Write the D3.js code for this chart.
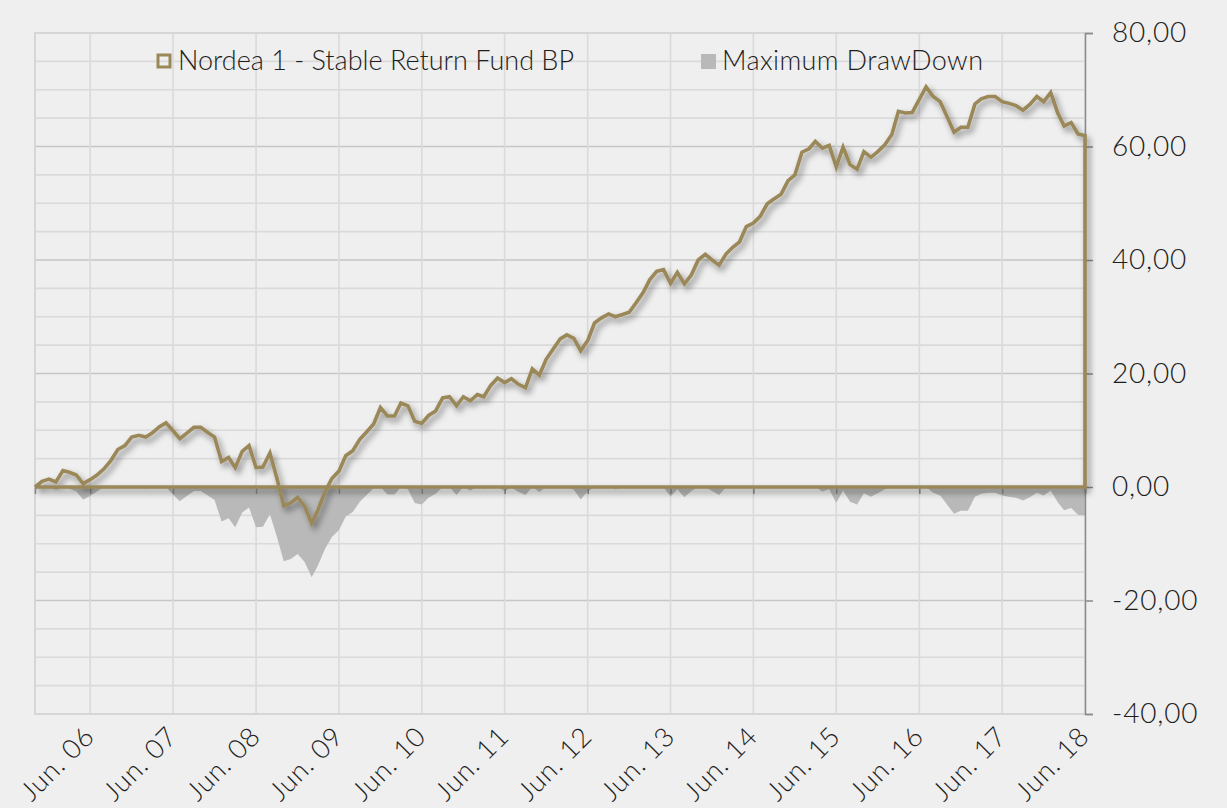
<!DOCTYPE html>
<html>
<head>
<meta charset="utf-8">
<script src="https://cdn.jsdelivr.net/npm/d3@7"></script>
<style>
  body { margin: 0; background: #efefef; }
  svg { display: block; }
  text { font-family: "Lato", "Open Sans", sans-serif; font-weight: 300; fill: #1e1e1e; }
</style>
</head>
<body>
<svg id="chart" width="1227" height="808"></svg>
<script>
// monthly series, Oct 2005 .. Jun 2018
const startMonth = new Date(2005, 9, 1);

const fundValues = [
  0.0, 1.0, 1.4, 0.9, 2.9, 2.6, 2.1, 0.6, 1.3, 2.1,
  3.2, 4.7, 6.6, 7.3, 8.8, 9.1, 8.8, 9.5, 10.6, 11.3,
  9.9, 8.5, 9.5, 10.5, 10.5, 9.6, 8.8, 4.5, 5.2, 3.4,
  6.3, 7.3, 3.4, 3.5, 6.0, 1.5, -3.3, -2.8, -1.8, -3.4,
  -6.4, -4.0, -0.8, 1.5, 2.8, 5.5, 6.4, 8.4, 9.7, 11.1,
  14.0, 12.5, 12.5, 14.8, 14.3, 11.6, 11.2, 12.6, 13.4, 15.7,
  15.9, 14.3, 15.9, 15.2, 16.3, 15.9, 17.9, 19.2, 18.4, 19.1,
  18.1, 17.5, 20.8, 19.7, 22.5, 24.3, 26.1, 26.8, 26.2, 24.0,
  25.8, 28.9, 29.8, 30.5, 30.0, 30.4, 30.8, 32.5, 34.3, 36.5,
  38.0, 38.3, 35.9, 37.8, 35.8, 37.4, 40.0, 41.0, 40.0, 39.1,
  41.1, 42.2, 43.2, 45.9, 46.5, 47.7, 49.9, 50.8, 51.6, 54.0,
  55.0, 59.0, 59.6, 60.9, 59.7, 60.2, 56.4, 59.9, 56.8, 56.0,
  59.1, 58.1, 59.1, 60.3, 62.1, 66.2, 65.9, 66.0, 68.3, 70.5,
  68.8, 67.9, 65.3, 62.5, 63.4, 63.4, 67.5, 68.4, 68.8, 68.8,
  67.9, 67.6, 67.2, 66.4, 67.4, 68.8, 67.9, 69.5, 65.9, 63.6,
  64.2, 62.2, 61.9
];

const drawdownValues = [
  0, 0, 0, -0.5, 0, -0.3, -0.8, -2.2, -1.6, -0.8,
  0, 0, 0, 0, 0, 0, -0.3, 0, 0, 0,
  -1.3, -2.5, -1.6, -0.7, -0.7, -1.5, -2.3, -6.1, -5.5, -7.1,
  -4.5, -3.6, -7.1, -7.0, -4.8, -8.8, -13.1, -12.7, -11.8, -13.2,
  -15.9, -13.8, -10.9, -8.8, -7.6, -5.2, -4.4, -2.6, -1.4, -0.2,
  0, -1.3, -1.3, 0, -0.4, -2.8, -3.1, -1.9, -1.2, 0,
  0, -1.4, 0, -0.6, 0, -0.3, 0, 0, -0.7, -0.1,
  -0.9, -1.4, 0, -0.9, 0, 0, 0, 0, -0.5, -2.2,
  -0.8, 0, 0, 0, -0.4, -0.1, 0, 0, 0, 0,
  0, 0, -1.7, -0.4, -1.8, -0.7, 0, 0, -0.7, -1.4,
  0, 0, 0, 0, 0, 0, 0, 0, 0, 0,
  0, 0, 0, 0, -0.8, -0.4, -2.8, -0.6, -2.6, -3.1,
  -1.1, -1.7, -1.1, -0.4, 0, 0, -0.2, -0.1, 0, 0,
  -1.0, -1.5, -3.1, -4.7, -4.2, -4.2, -1.7, -1.2, -1.0, -1.0,
  -1.5, -1.7, -1.9, -2.4, -1.8, -1.0, -1.5, -0.6, -2.7, -4.1,
  -3.7, -4.9, -5.0
];

const tickLabels = ["Jun. 06", "Jun. 07", "Jun. 08", "Jun. 09", "Jun. 10", "Jun. 11",
  "Jun. 12", "Jun. 13", "Jun. 14", "Jun. 15", "Jun. 16", "Jun. 17", "Jun. 18"];
const tickYears = [2006, 2007, 2008, 2009, 2010, 2011, 2012, 2013, 2014, 2015, 2016, 2017, 2018];
const yTicks = [-40, -20, 0, 20, 40, 60, 80];

const seriesNames = ["Nordea 1 - Stable Return Fund BP", "Maximum DrawDown"];

const gold = "#9b8858";
const ddGray = "#b9b9b9";

const months = fundValues.map((v, i) => d3.timeMonth.offset(startMonth, i));
const rows = months.map((m, i) => ({ date: m, fund: fundValues[i], dd: drawdownValues[i] }));

const plotLeft = 35, plotRight = 1085, plotTop = 33, plotBottom = 714;

const x = d3.scaleTime()
  .domain([months[0], months[months.length - 1]])
  .range([plotLeft, plotRight]);
const y = d3.scaleLinear().domain([-40, 80]).range([plotBottom, plotTop]);

const svg = d3.select("#chart");

const defs = svg.append("defs");
const shadow = defs.append("filter").attr("id", "shadow")
  .attr("x", "-5%").attr("y", "-20%").attr("width", "115%").attr("height", "150%");
shadow.append("feDropShadow")
  .attr("dx", 3).attr("dy", 4).attr("stdDeviation", 3)
  .attr("flood-color", "#000").attr("flood-opacity", 0.45);

// horizontal grid (every 5, darker every 20)
const minor = d3.range(-40, 81, 5);
svg.append("g").selectAll("line").data(minor).enter().append("line")
  .attr("x1", plotLeft).attr("x2", plotRight)
  .attr("y1", d => y(d)).attr("y2", d => y(d))
  .attr("stroke", d => d % 20 === 0 ? "#c6c6c6" : "#dadada")
  .attr("stroke-width", 1.6);

// vertical grid at each June
const tickDates = tickYears.map(yr => new Date(yr, 5, 1));
svg.append("g").selectAll("line").data(tickDates).enter().append("line")
  .attr("x1", d => x(d)).attr("x2", d => x(d))
  .attr("y1", plotTop).attr("y2", plotBottom)
  .attr("stroke", "#dadada").attr("stroke-width", 1.6);

// plot border (top, left, bottom)
svg.append("path")
  .attr("d", `M${plotRight},${plotTop}H${plotLeft}V${plotBottom}H${plotRight}`)
  .attr("fill", "none").attr("stroke", "#d6d6d6").attr("stroke-width", 2);

// drawdown area
const ddArea = d3.area()
  .x(d => x(d.date)).y0(y(0)).y1(d => y(d.dd));
svg.append("path").datum(rows)
  .attr("d", ddArea)
  .attr("fill", ddGray);

// category axis at zero
const xAxis = d3.axisBottom(x).tickValues(tickDates).tickSize(7).tickFormat("");
const gx = svg.append("g").attr("transform", `translate(0,${y(0)})`).call(xAxis);
gx.select(".domain").attr("stroke", "#8a8a8a").attr("stroke-width", 1.5);
gx.selectAll(".tick line").attr("stroke", "#8a8a8a").attr("stroke-width", 1.5);

// rotated date labels below plot
svg.append("g").selectAll("text").data(tickDates).enter().append("text")
  .attr("transform", d => `translate(${x(d) + 6},738) rotate(-45)`)
  .attr("text-anchor", "end")
  .attr("font-size", 27)
  .attr("letter-spacing", 0.8)
  .text((d, i) => tickLabels[i]);

// value axis on the right
const yAxis = d3.axisRight(y).tickValues(yTicks).tickSize(8)
  .tickFormat(d => d3.format(".2f")(d).replace(".", ",").replace("\u2212", "-"));
const gy = svg.append("g").attr("transform", `translate(${plotRight},0)`).call(yAxis);
gy.select(".domain").attr("stroke", "#8a8a8a").attr("stroke-width", 1.5);
gy.selectAll(".tick line").attr("stroke", "#8a8a8a").attr("stroke-width", 1.5);
gy.selectAll(".tick text")
  .attr("x", 27).attr("font-size", 28).attr("letter-spacing", 0.8)
  .attr("font-family", "Lato, sans-serif").attr("font-weight", 300)
  .attr("fill", "#1e1e1e");

// fund series as an outlined area (no fill)
const fundLine = d3.line().x(d => x(d.date)).y(d => y(d.fund));
const last = rows[rows.length - 1];
const outline = fundLine(rows) + `L${x(last.date)},${y(0)}L${x(rows[0].date)},${y(0)}`;
svg.append("path")
  .attr("d", outline)
  .attr("fill", "none")
  .attr("stroke", gold)
  .attr("stroke-width", 3.6)
  .attr("stroke-linejoin", "miter")
  .attr("filter", "url(#shadow)");

// legend
const legend = svg.append("g");
legend.append("rect").attr("x", 158).attr("y", 55).attr("width", 12).attr("height", 12)
  .attr("fill", "none").attr("stroke", gold).attr("stroke-width", 3);
legend.append("text").attr("x", 178).attr("y", 70).attr("font-size", 27).text(seriesNames[0]);
legend.append("rect").attr("x", 701).attr("y", 54).attr("width", 15).attr("height", 15)
  .attr("fill", ddGray);
legend.append("text").attr("x", 722).attr("y", 70).attr("font-size", 27)
  .attr("letter-spacing", 0.4).text(seriesNames[1]);
</script>
</body>
</html>
